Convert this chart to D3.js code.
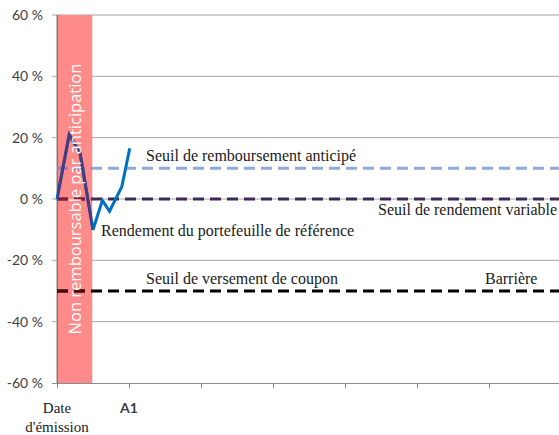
<!DOCTYPE html>
<html>
<head>
<meta charset="utf-8">
<script src="https://cdn.jsdelivr.net/npm/d3@7"></script>
<style>
body { margin:0; background:#fff; }
svg { display:block; }
</style>
</head>
<body>
<svg id="chart" width="559" height="435"></svg>
<script>
// donnees
var years = [0, 0.17, 0.32, 0.50, 0.63, 0.73, 0.90, 1.01]
var returns = [0, 21, 15, -10, -0.5, -4, 4, 16.5]

var yTicks = [60, 40, 20, 0, -20, -40, -60]
var xTicks = [0, 1, 2, 3, 4, 5, 6, 7]
var xLabels = ['Date|d\'émission', 'A1', '', '', '', '', '', '']

var seuilNames = ['Seuil de remboursement anticipé', 'Seuil de rendement variable', 'Seuil de versement de coupon']
var seuilValues = [10, 0, -30]

var bandEnd = 0.49 // non remboursable

var svg = d3.select('#chart')
var W = 559

var x = d3.scaleLinear().domain([0, 7]).range([57, 561])
var y = d3.scaleLinear().domain([-60, 60]).range([383, 15])

var line = d3.line()
    .x(function(d){return x(d[0])})
    .y(function(d){return y(d[1])})
var pts = d3.zip(years, returns)

// grille
svg.append('g').selectAll('line').data(yTicks.filter(function(v){return v != -60})).enter().append('line')
    .attr('x1', x(0) - 5).attr('x2', W)
    .attr('y1', function(d){return y(d)}).attr('y2', function(d){return y(d)})
    .attr('stroke', '#a6a6a6').attr('stroke-width', 1)

// axe y
svg.append('line').attr('x1', x(0)).attr('x2', x(0)).attr('y1', y(60)).attr('y2', y(-60))
    .attr('stroke', '#8c8c8c')

// axe x
var xAxis = d3.axisBottom(x).tickValues(xTicks).tickSize(5).tickFormat('')
var gx = svg.append('g').attr('transform', 'translate(0,' + y(-60) + ')').call(xAxis)
gx.select('.domain').attr('stroke', '#8c8c8c').attr('d', 'M' + (x(0) - 5) + ',0.5H' + W)
gx.selectAll('.tick line').attr('stroke', '#8c8c8c')

svg.append('g').selectAll('text').data(yTicks).enter().append('text')
    .attr('x', 43).attr('y', function(d){return y(d) + 5})
    .attr('text-anchor', 'end')
    .attr('font-family', 'Lato, sans-serif').attr('font-size', 14)
    .attr('fill', '#404040')
    .text(function(d){return d + ' %'})

// bande rouge
svg.append('rect').attr('x', x(0)).attr('y', y(60))
    .attr('width', x(bandEnd) - x(0)).attr('height', y(-60) - y(60))
    .attr('fill', '#ff8a8a')
svg.append('defs').append('clipPath').attr('id', 'band')
    .append('rect').attr('x', x(0)).attr('y', y(60))
    .attr('width', x(bandEnd) - x(0)).attr('height', y(-60) - y(60))
svg.append('line').attr('x1', x(0) + 0.5).attr('x2', x(0) + 0.5).attr('y1', y(60)).attr('y2', y(-60))
    .attr('stroke', '#c0505a')

// seuils
var seuilColors = ['#8eaadb', '#3b2a5c', '#000000']
var seuilBand = ['#a07ab0', '#8a1c3c', '#4a0a10']
svg.append('g').selectAll('line').data(seuilValues).enter().append('line')
    .attr('x1', x(0)).attr('x2', W)
    .attr('y1', function(d){return y(d)}).attr('y2', function(d){return y(d)})
    .attr('stroke', function(d, i){return seuilColors[i]})
    .attr('stroke-width', 3).attr('stroke-dasharray', '11,6')
svg.append('g').attr('clip-path', 'url(#band)').selectAll('line').data(seuilValues).enter().append('line')
    .attr('x1', x(0)).attr('x2', W)
    .attr('y1', function(d){return y(d)}).attr('y2', function(d){return y(d)})
    .attr('stroke', function(d, i){return seuilBand[i]})
    .attr('stroke-width', 3).attr('stroke-dasharray', '11,6')

// rendement
svg.append('path').datum(pts).attr('d', line)
    .attr('fill', 'none').attr('stroke', '#0070c0').attr('stroke-width', 3)
    .attr('stroke-linejoin', 'miter')
svg.append('path').datum(pts).attr('d', line).attr('clip-path', 'url(#band)')
    .attr('fill', 'none').attr('stroke', '#4a3a80').attr('stroke-width', 3)

// texte vertical
svg.append('text')
    .attr('transform', 'translate(' + (x(bandEnd / 2) + 6) + ',' + y(0) + ') rotate(-90)')
    .attr('text-anchor', 'middle')
    .attr('font-family', '"Open Sans", sans-serif').attr('font-size', 16.5)
    .attr('fill', '#ffffff')
    .text('Non remboursable par anticipation')

// libelles
var labels = [
    {t: seuilNames[0], x: 146, y: y(seuilValues[0]) - 7},
    {t: seuilNames[1], x: 378, y: y(seuilValues[1]) + 16},
    {t: 'Rendement du portefeuille de référence', x: 101, y: y(seuilValues[1]) + 37},
    {t: seuilNames[2], x: 146, y: y(seuilValues[2]) - 7},
    {t: 'Barrière', x: 485, y: y(seuilValues[2]) - 7}
]
svg.append('g').selectAll('text').data(labels).enter().append('text')
    .attr('x', function(d){return d.x}).attr('y', function(d){return d.y})
    .attr('font-family', '"Liberation Serif", serif').attr('font-size', 16)
    .attr('fill', '#1a1a1a')
    .text(function(d){return d.t})

// libelles x
var xl = svg.append('g').selectAll('text').data(xTicks).enter().append('text')
    .attr('x', function(d){return x(d)}).attr('y', 413)
    .attr('text-anchor', 'middle')
xl.filter(function(d){return d == 0})
    .attr('font-family', '"Liberation Serif", serif').attr('font-size', 15).attr('fill', '#1a1a1a')
    .selectAll('tspan').data(xLabels[0].split('|')).enter().append('tspan')
    .attr('x', x(0)).attr('dy', function(d, i){return i ? 19 : 0})
    .text(function(d){return d})
xl.filter(function(d){return d > 0})
    .attr('font-family', 'Lato, sans-serif').attr('font-size', 14).attr('font-weight', 'bold').attr('fill', '#404040')
    .text(function(d){return xLabels[d]})
</script>
</body>
</html>
